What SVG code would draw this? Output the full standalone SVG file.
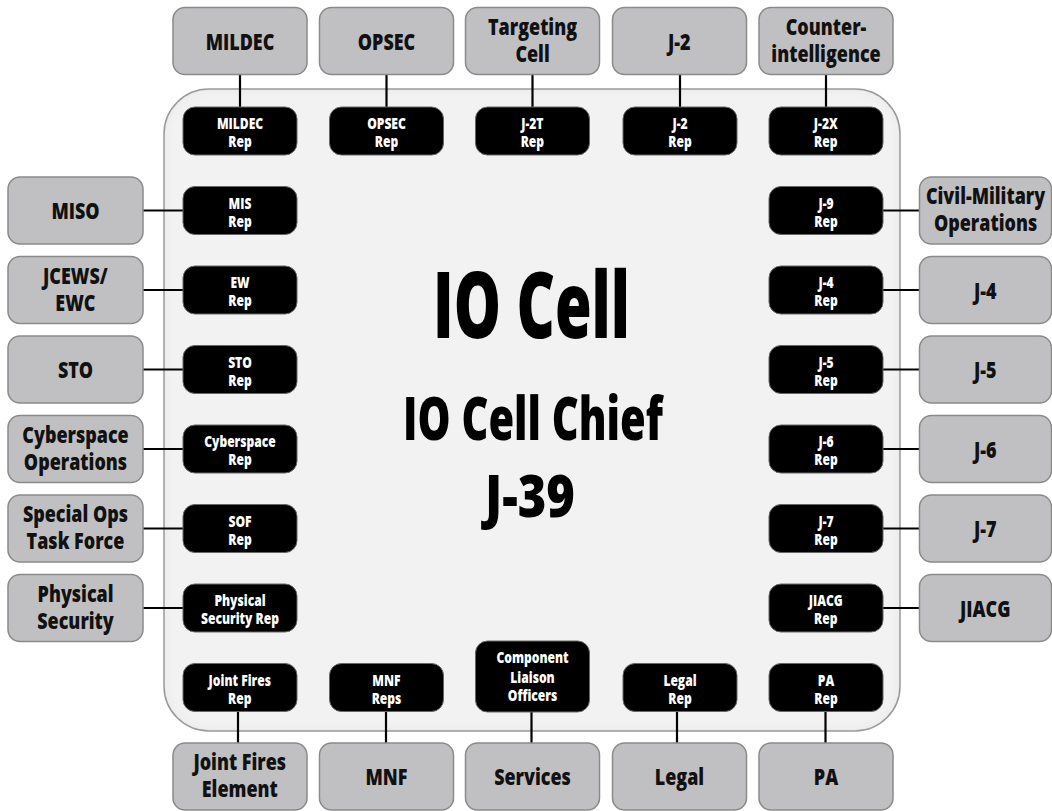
<svg xmlns="http://www.w3.org/2000/svg" width="1052" height="811" viewBox="0 0 1052 811">
<style>
text{font-family:"Open Sans","Liberation Sans",sans-serif;font-weight:800;text-anchor:middle}
.g text,.r text{transform-box:fill-box;transform-origin:center;transform:scaleX(0.78)}
.g rect{fill:#c0c0c2;stroke:#8a8a8a;stroke-width:1.5}
.g text{fill:#111;font-size:23px}
.r rect{fill:#000;stroke:#666;stroke-width:1}
.r text{fill:#fff;font-size:15.5px}
.big{fill:#000}
#connectors line{stroke:#000;stroke-width:2.2}
</style>
<defs>
<filter id="inset" x="-5%" y="-5%" width="110%" height="110%">
<feComponentTransfer in="SourceAlpha"><feFuncA type="table" tableValues="1 0"/></feComponentTransfer>
<feGaussianBlur stdDeviation="5"/>
<feComposite operator="in" in2="SourceAlpha"/>
<feComponentTransfer result="sh"><feFuncA type="linear" slope="0.12"/></feComponentTransfer>
<feMerge><feMergeNode in="SourceGraphic"/><feMergeNode in="sh"/></feMerge>
</filter>
</defs>
<rect width="1052" height="811" fill="#fff"/>
<g id="io-cell">
<rect x="164" y="89" width="736" height="642" rx="45" fill="#f2f2f2" filter="url(#inset)"/>
<rect x="164" y="89" width="736" height="642" rx="45" fill="none" stroke="#999" stroke-width="1.5"/>
<text class="big" x="531.5" y="338" font-size="93" textLength="197" lengthAdjust="spacingAndGlyphs">IO Cell</text>
<text class="big" x="533" y="440" font-size="61" textLength="260" lengthAdjust="spacingAndGlyphs">IO Cell Chief</text>
<text class="big" x="530" y="516.5" font-size="58" textLength="90" lengthAdjust="spacingAndGlyphs">J-39</text>
</g>
<g id="connectors">
<line x1="240" y1="74.5" x2="240" y2="107"/>
<line x1="386.5" y1="74.5" x2="386.5" y2="107"/>
<line x1="532.5" y1="74.5" x2="532.5" y2="107"/>
<line x1="680" y1="74.5" x2="680" y2="107"/>
<line x1="826" y1="74.5" x2="826" y2="107"/>
<line x1="143" y1="210.5" x2="183" y2="210.5"/>
<line x1="143" y1="290" x2="183" y2="290"/>
<line x1="143" y1="369.5" x2="183" y2="369.5"/>
<line x1="143" y1="449" x2="183" y2="449"/>
<line x1="143" y1="528.5" x2="183" y2="528.5"/>
<line x1="143" y1="608" x2="183" y2="608"/>
<line x1="883" y1="210.5" x2="919.5" y2="210.5"/>
<line x1="883" y1="290" x2="919.5" y2="290"/>
<line x1="883" y1="369.5" x2="919.5" y2="369.5"/>
<line x1="883" y1="449" x2="919.5" y2="449"/>
<line x1="883" y1="528.5" x2="919.5" y2="528.5"/>
<line x1="883" y1="608" x2="919.5" y2="608"/>
<line x1="238" y1="711.5" x2="238" y2="743"/>
<line x1="386" y1="711.5" x2="386" y2="743"/>
<line x1="531.5" y1="712" x2="531.5" y2="743"/>
<line x1="677" y1="711.5" x2="677" y2="743"/>
<line x1="825.5" y1="711.5" x2="825.5" y2="743"/>
</g>
<!-- top external -->
<g id="mildec" class="g"><rect x="173" y="7.5" width="134" height="67" rx="12"/><text x="240" y="50">MILDEC</text></g>
<g id="opsec" class="g"><rect x="319.5" y="7.5" width="134" height="67" rx="12"/><text x="386.5" y="50">OPSEC</text></g>
<g id="targeting-cell" class="g"><rect x="465.5" y="7.5" width="134" height="67" rx="12"/><text x="532.5" y="35">Targeting<tspan x="532.5" dy="27">Cell</tspan></text></g>
<g id="j2" class="g"><rect x="612.5" y="7.5" width="134" height="67" rx="12"/><text x="679.5" y="50">J-2</text></g>
<g id="counterintelligence" class="g"><rect x="759" y="7.5" width="134" height="67" rx="12"/><text x="826" y="35">Counter-<tspan x="826" dy="27">intelligence</tspan></text></g>
<!-- top reps -->
<g id="mildec-rep" class="r"><rect x="183" y="107" width="114" height="48" rx="12"/><text x="240" y="129.5">MILDEC<tspan x="240" dy="18">Rep</tspan></text></g>
<g id="opsec-rep" class="r"><rect x="329.5" y="107" width="114" height="48" rx="12"/><text x="386.5" y="129.5">OPSEC<tspan x="386.5" dy="18">Rep</tspan></text></g>
<g id="j2t-rep" class="r"><rect x="475.5" y="107" width="114" height="48" rx="12"/><text x="532.5" y="129.5">J-2T<tspan x="532.5" dy="18">Rep</tspan></text></g>
<g id="j2-rep" class="r"><rect x="623" y="107" width="114" height="48" rx="12"/><text x="680" y="129.5">J-2<tspan x="680" dy="18">Rep</tspan></text></g>
<g id="j2x-rep" class="r"><rect x="769" y="107" width="114" height="48" rx="12"/><text x="826" y="129.5">J-2X<tspan x="826" dy="18">Rep</tspan></text></g>
<!-- left external -->
<g id="miso" class="g"><rect x="8" y="177" width="135" height="67" rx="12"/><text x="75.5" y="219.5">MISO</text></g>
<g id="jcews" class="g"><rect x="8" y="256.5" width="135" height="67" rx="12"/><text x="75.5" y="284">JCEWS/<tspan x="75.5" dy="27">EWC</tspan></text></g>
<g id="sto" class="g"><rect x="8" y="336" width="135" height="67" rx="12"/><text x="75.5" y="378.5">STO</text></g>
<g id="cyberspace-ops" class="g"><rect x="8" y="415.5" width="135" height="67" rx="12"/><text x="75.5" y="443">Cyberspace<tspan x="75.5" dy="27">Operations</tspan></text></g>
<g id="special-ops" class="g"><rect x="8" y="495" width="135" height="67" rx="12"/><text x="75.5" y="522.5">Special Ops<tspan x="75.5" dy="27">Task Force</tspan></text></g>
<g id="physical-security" class="g"><rect x="8" y="574.5" width="135" height="67" rx="12"/><text x="75.5" y="602">Physical<tspan x="75.5" dy="27">Security</tspan></text></g>
<!-- left reps -->
<g id="mis-rep" class="r"><rect x="183" y="186.5" width="114" height="48" rx="12"/><text x="240" y="209">MIS<tspan x="240" dy="18">Rep</tspan></text></g>
<g id="ew-rep" class="r"><rect x="183" y="266" width="114" height="48" rx="12"/><text x="240" y="288.5">EW<tspan x="240" dy="18">Rep</tspan></text></g>
<g id="sto-rep" class="r"><rect x="183" y="345.5" width="114" height="48" rx="12"/><text x="240" y="368">STO<tspan x="240" dy="18">Rep</tspan></text></g>
<g id="cyberspace-rep" class="r"><rect x="183" y="425" width="114" height="48" rx="12"/><text x="240" y="447.5">Cyberspace<tspan x="240" dy="18">Rep</tspan></text></g>
<g id="sof-rep" class="r"><rect x="183" y="504.5" width="114" height="48" rx="12"/><text x="240" y="527">SOF<tspan x="240" dy="18">Rep</tspan></text></g>
<g id="physical-security-rep" class="r"><rect x="183" y="584" width="114" height="48" rx="12"/><text x="240" y="606.5">Physical<tspan x="240" dy="18">Security Rep</tspan></text></g>
<!-- right reps -->
<g id="j9-rep" class="r"><rect x="769" y="186.5" width="114" height="48" rx="12"/><text x="826" y="209">J-9<tspan x="826" dy="18">Rep</tspan></text></g>
<g id="j4-rep" class="r"><rect x="769" y="266" width="114" height="48" rx="12"/><text x="826" y="288.5">J-4<tspan x="826" dy="18">Rep</tspan></text></g>
<g id="j5-rep" class="r"><rect x="769" y="345.5" width="114" height="48" rx="12"/><text x="826" y="368">J-5<tspan x="826" dy="18">Rep</tspan></text></g>
<g id="j6-rep" class="r"><rect x="769" y="425" width="114" height="48" rx="12"/><text x="826" y="447.5">J-6<tspan x="826" dy="18">Rep</tspan></text></g>
<g id="j7-rep" class="r"><rect x="769" y="504.5" width="114" height="48" rx="12"/><text x="826" y="527">J-7<tspan x="826" dy="18">Rep</tspan></text></g>
<g id="jiacg-rep" class="r"><rect x="769" y="584" width="114" height="48" rx="12"/><text x="826" y="606.5">JIACG<tspan x="826" dy="18">Rep</tspan></text></g>
<!-- right external -->
<g id="civil-military" class="g"><rect x="919.5" y="177" width="132" height="67" rx="12"/><text x="985.5" y="204.5">Civil-Military<tspan x="985.5" dy="27">Operations</tspan></text></g>
<g id="j4" class="g"><rect x="919.5" y="256.5" width="132" height="67" rx="12"/><text x="985.5" y="299">J-4</text></g>
<g id="j5" class="g"><rect x="919.5" y="336" width="132" height="67" rx="12"/><text x="985.5" y="378.5">J-5</text></g>
<g id="j6" class="g"><rect x="919.5" y="415.5" width="132" height="67" rx="12"/><text x="985.5" y="458">J-6</text></g>
<g id="j7" class="g"><rect x="919.5" y="495" width="132" height="67" rx="12"/><text x="985.5" y="537.5">J-7</text></g>
<g id="jiacg" class="g"><rect x="919.5" y="574.5" width="132" height="67" rx="12"/><text x="985.5" y="617">JIACG</text></g>
<!-- bottom reps -->
<g id="joint-fires-rep" class="r"><rect x="183" y="663.5" width="114" height="48" rx="12"/><text x="240" y="686">Joint Fires<tspan x="240" dy="18">Rep</tspan></text></g>
<g id="mnf-reps" class="r"><rect x="329.5" y="663.5" width="114" height="48" rx="12"/><text x="386.5" y="686">MNF<tspan x="386.5" dy="18">Reps</tspan></text></g>
<g id="component-liaison" class="r"><rect x="475.5" y="641" width="114" height="71" rx="12"/><text x="532.5" y="663.5">Component<tspan x="532.5" dy="19">Liaison</tspan><tspan x="532.5" dy="19">Officers</tspan></text></g>
<g id="legal-rep" class="r"><rect x="623" y="663.5" width="114" height="48" rx="12"/><text x="680" y="686">Legal<tspan x="680" dy="18">Rep</tspan></text></g>
<g id="pa-rep" class="r"><rect x="769" y="663.5" width="114" height="48" rx="12"/><text x="826" y="686">PA<tspan x="826" dy="18">Rep</tspan></text></g>
<!-- bottom external -->
<g id="joint-fires-element" class="g"><rect x="173" y="743" width="134" height="67" rx="12"/><text x="240" y="770.5">Joint Fires<tspan x="240" dy="27">Element</tspan></text></g>
<g id="mnf" class="g"><rect x="319.5" y="743" width="134" height="67" rx="12"/><text x="386.5" y="785.5">MNF</text></g>
<g id="services" class="g"><rect x="465.5" y="743" width="134" height="67" rx="12"/><text x="532.5" y="785.5">Services</text></g>
<g id="legal" class="g"><rect x="612.5" y="743" width="134" height="67" rx="12"/><text x="679.5" y="785.5">Legal</text></g>
<g id="pa" class="g"><rect x="759" y="743" width="134" height="67" rx="12"/><text x="826" y="785.5">PA</text></g>
</svg>
